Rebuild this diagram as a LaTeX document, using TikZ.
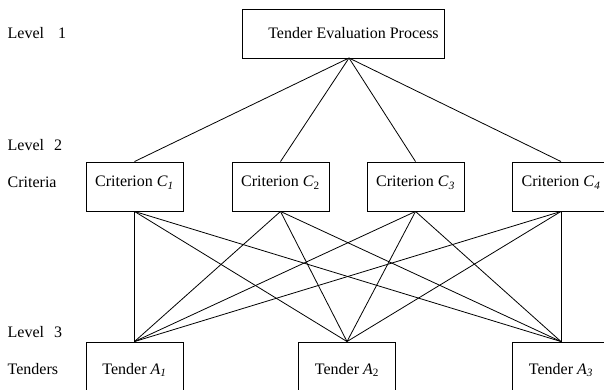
\documentclass[tikz,border=0pt]{standalone}
\usepackage{fontspec}
\setmainfont{Liberation Serif}
\begin{document}
\begin{tikzpicture}[x=1pt,y=-1pt,
  every node/.style={font=\fontsize{16}{19}\selectfont},
  box/.style={draw,line width=0.9pt,inner sep=0pt,minimum width=97pt},
  crit/.style={box,minimum height=49pt,text height=5pt,text depth=5pt},
  tend/.style={box,minimum height=64pt,text height=5pt,text depth=5pt},
  lbl/.style={anchor=base west,inner sep=0pt},
  link/.style={line width=0.8pt}]
\useasboundingbox (0,0) rectangle (604,390);
% top
\node[draw,line width=0.9pt,minimum width=202pt,minimum height=49pt,inner sep=0pt] (top) at (343,33.5) {};
\node[anchor=base,inner sep=0pt] (toptext) at (353.5,39) {Tender Evaluation Process};
\coordinate (apex) at (349,58);
% criteria
\node[crit] (c1) at (134.5,186.5) {Criterion \textit{C}\textsubscript{\textit{1}}};
\node[crit] (c2) at (280.5,186.5) {Criterion \textit{C}\textsubscript{2}};
\node[crit] (c3) at (415.5,186.5) {Criterion \textit{C}\textsubscript{\textit{3}}};
\node[crit] (c4) at (561,186.5) {Criterion \textit{C}\textsubscript{\textit{4}}};
% tenders
\node[tend] (a1) at (134.5,374) {Tender \textit{A}\textsubscript{\textit{1}}};
\node[tend] (a2) at (347,374) {Tender \textit{A}\textsubscript{2}};
\node[tend] (a3) at (561,374) {Tender \textit{A}\textsubscript{\textit{3}}};
% labels
\node[lbl] (l1) at (7.5,39) {Level\hspace{14pt}1};
\node[lbl] (l2) at (7.5,150) {Level\hspace{10pt}2};
\node[lbl] (lc) at (7.5,187) {Criteria};
\node[lbl] (l3) at (7.5,337) {Level\hspace{10pt}3};
\node[lbl] (lt) at (7.5,374) {Tenders};
% links
\foreach \c in {c1,c2,c3,c4}{
  \draw[link] (apex) -- (\c.north);
  \foreach \a in {a1,a2,a3}{
    \draw[link] (\c.south) -- (\a.north);
  }
}
\end{tikzpicture}
\end{document}
